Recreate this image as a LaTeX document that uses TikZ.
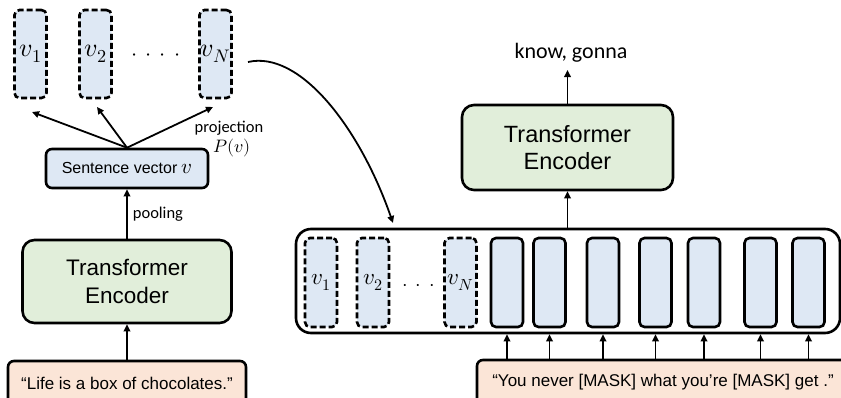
\documentclass[tikz,border=0pt]{standalone}
\usepackage{fontspec}
\usepackage{unicode-math}
\setmainfont{Liberation Sans}
\newfontfamily\calib{Carlito}
\usetikzlibrary{arrows.meta}
\definecolor{vblue}{HTML}{DEE8F4}
\definecolor{egreen}{HTML}{E1EEDA}
\definecolor{tpeach}{HTML}{FBE5D7}
\tikzset{
 vdash/.style={draw, dash pattern=on 6pt off 3pt, line width=2.6pt, fill=vblue, rounded corners=5pt, minimum width=32pt, inner sep=0pt},
 vsolid/.style={draw, line width=2.6pt, fill=vblue, rounded corners=5pt, minimum width=32pt, minimum height=89pt, inner sep=0pt},
 enc/.style={draw, line width=2.6pt, fill=egreen, rounded corners=12pt, inner sep=0pt, align=center},
 txt/.style={draw, line width=2.6pt, fill=tpeach, rounded corners=6pt, inner sep=0pt, font=\fontsize{17}{20}\selectfont},
 arr/.style={-{Triangle[length=7pt,width=6.5pt]}, line width=1.8pt},
 lab/.style={inner sep=0pt, font=\calib\fontsize{16.5}{19}\selectfont},
}
\begin{document}
\begin{tikzpicture}[x=1pt,y=-1pt]
\path[use as bounding box, clip] (0,0) rectangle (841,397);
% ---------- left part ----------
\node[vdash, minimum height=88pt, font=\fontsize{26}{26}\selectfont] (lv1) at (30.5,54) {$v_1$};
\node[vdash, minimum height=88pt, font=\fontsize{26}{26}\selectfont] (lv2) at (95.5,54) {$v_2$};
\node[vdash, minimum height=88pt, font=\fontsize{26}{26}\selectfont] (lvN) at (215.5,54) {$v_N$};
\node[inner sep=0pt, font=\fontsize{22}{22}\selectfont] (ldots) at (156,57) {$\cdot$\hspace{8pt}$\cdot$\hspace{8pt}$\cdot$\hspace{8pt}$\cdot$};

\node[draw, line width=2.6pt, fill=vblue, rounded corners=6pt, minimum width=162pt, minimum height=39pt, inner sep=0pt, font=\fontsize{16}{19}\selectfont] (sent) at (127,168.5) {Sentence vector {\fontsize{21}{21}\selectfont$v$}};
\node[enc, minimum width=209pt, minimum height=83pt, font=\fontsize{22.5}{28}\selectfont] (lenc) at (127,281.5) {Transformer\\Encoder};
\node[txt, minimum width=238pt, minimum height=44pt] (ltxt) at (127,383) {“Life is a box of chocolates.”};

\draw[arr] (ltxt) -- (lenc);
\draw[arr] (lenc) -- (sent) node[lab, midway, right=5pt] (pool) {pooling};

\coordinate (a1) at (32,112);
\coordinate (a2) at (97,107);
\coordinate (a3) at (213,107);
\draw[arr] (sent.north) -- (a1);
\draw[arr] (sent.north) -- (a2);
\draw[arr] (sent.north) -- (a3);
\node[lab] (proj) at (229,128) {projection};
\node[inner sep=0pt, font=\fontsize{18}{20}\selectfont] (pv) at (232,148) {$P(v)$};

\coordinate (cs) at (248,62);
\coordinate (ce) at (393,223);
\draw[arr] (cs) .. controls (300,50) and (360,128) .. (ce);

% ---------- right part ----------
\node[draw, line width=2.6pt, rounded corners=15pt, minimum width=544pt, minimum height=104pt, inner sep=0pt] (big) at (568,281) {};
\node[vdash, minimum height=89pt, font=\fontsize{23}{23}\selectfont] (rv1) at (321,282.5) {$v_1$};
\node[vdash, minimum height=89pt, font=\fontsize{23}{23}\selectfont] (rv2) at (373,282.5) {$v_2$};
\node[vdash, minimum height=89pt, font=\fontsize{23}{23}\selectfont] (rvN) at (460.5,282.5) {$v_N$};
\node[inner sep=0pt, font=\fontsize{20}{20}\selectfont] (rdots) at (418.5,287) {$\cdot$\hspace{8pt}$\cdot$\hspace{8pt}$\cdot$};

\node[vsolid] (s1) at (507,282.5) {};
\node[vsolid] (s2) at (549.5,282.5) {};
\node[vsolid] (s3) at (603,282.5) {};
\node[vsolid] (s4) at (655.5,282.5) {};
\node[vsolid] (s5) at (704,282.5) {};
\node[vsolid] (s6) at (760.5,282.5) {};
\node[vsolid] (s7) at (808.5,282.5) {};

\node[txt, minimum width=372pt, minimum height=44pt] (rtxt) at (663,382) {“You never [MASK] what you’re [MASK] get .”};
\foreach \s in {s1,s2,s3,s4,s5,s6,s7}{
  \draw[arr] (rtxt.north -| \s) -- (big.south -| \s);
}

\node[enc, minimum width=211pt, minimum height=85pt, font=\fontsize{23.5}{27}\selectfont] (renc) at (567.5,147.5) {Transformer\\Encoder};
\draw[arr] (big.north -| renc) -- (renc.south);
\node[lab, font=\calib\fontsize{22}{26}\selectfont] (out) at (571,53) {know, gonna};
\coordinate (otip) at (567.5,70);
\draw[arr] (renc.north) -- (otip);
\end{tikzpicture}
\end{document}
